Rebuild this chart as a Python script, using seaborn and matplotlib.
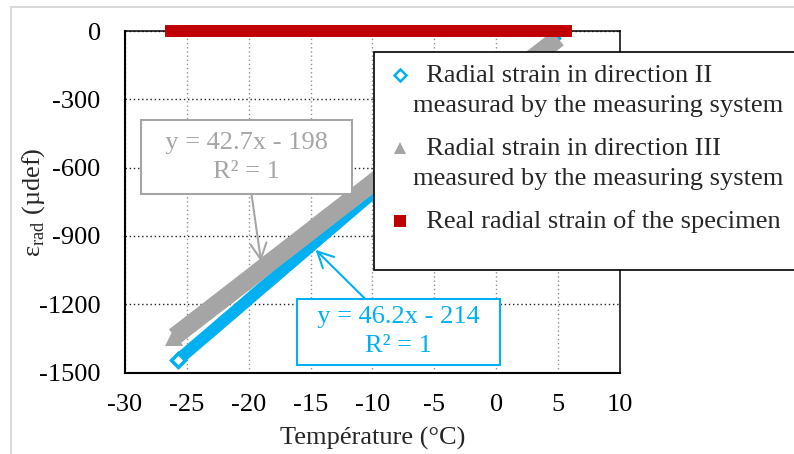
import matplotlib
matplotlib.use('Agg')
import matplotlib.pyplot as plt
import matplotlib.patches as mpatches
from matplotlib.lines import Line2D
import seaborn as sns

# Valeurs
temp_dir2 = [-25.7, -25, -24, -23, -22, -21, -20, -19, -18, -17, -16, -15, -14, -13, -12, -11,
             -10, -9, -8, -7, -6, -5, -4, -3, -2, -1, 0, 1, 2, 3, 4, 5]
strain_dir2 = [-1444, -1412, -1365, -1319, -1272, -1226, -1179, -1132, -1086, -1039, -993, -946,
               -899, -853, -806, -760, -713, -666, -620, -573, -527, -480, -433, -387, -340, -294,
               -247, -200, -154, -107, -61, -14]

temp_dir3 = [-26, -25, -24, -23, -22, -21, -20, -19, -18, -17, -16, -15, -14, -13, -12, -11,
             -10, -9, -8, -7, -6, -5, -4, -3, -2, -1, 0, 1, 2, 3, 4, 5]
strain_dir3 = [-1342, -1300, -1258, -1216, -1174, -1132, -1090, -1047, -1005, -963, -921, -879,
               -836, -794, -752, -710, -668, -625, -583, -541, -498, -456, -414, -371, -329, -287,
               -244, -202, -160, -117, -75, -32]

temp_real = [-26.3, -25, -20, -15, -10, -5, 0, 5, 5.6]
strain_real = [0, 0, 0, 0, 0, 0, 0, 0, 0]

x_ticks = [-30, -25, -20, -15, -10, -5, 0, 5, 10]
y_ticks = [-1500, -1200, -900, -600, -300, 0]

labels = ['  Radial strain in direction II', 'measurad by the measuring system',
          '  Radial strain in direction III', 'measured by the measuring system',
          '  Real radial strain of the specimen']
eq_dir2 = '  y = 46.2x - 214  \nR² = 1'
eq_dir3 = '  y = 42.7x - 198  \nR² = 1'

BLUE = '#00B0F0'
GRAY = '#A5A5A5'
RED = '#C00000'

sns.set_theme(style='white')
plt.rcParams['font.family'] = ['Liberation Serif', 'DejaVu Serif']
plt.rcParams['mathtext.fontset'] = 'custom'
plt.rcParams['mathtext.rm'] = 'Liberation Serif'
plt.rcParams['axes.unicode_minus'] = False
FS = 19

fig = plt.figure(figsize=(7.94, 4.54), dpi=100)
ax = fig.add_axes([0.1574, 0.1795, 0.6234, 0.7522])

# séries
sns.lineplot(x=temp_dir2, y=strain_dir2, ax=ax, color=BLUE, lw=8.5,
             solid_capstyle='butt', zorder=3)
sns.lineplot(x=temp_dir3, y=strain_dir3, ax=ax, color=GRAY, lw=13,
             solid_capstyle='butt', zorder=4)
ax.plot(temp_dir2[:1], strain_dir2[:1], marker='D', ms=7, mew=2.5, mfc='white',
        mec=BLUE, ls='none', zorder=5)
ax.plot(temp_dir3[:1], strain_dir3[:1], marker='^', ms=13, mew=0, color=GRAY,
        ls='none', zorder=4)
sns.lineplot(x=temp_real, y=strain_real, ax=ax, color=RED, lw=8.6,
             solid_capstyle='projecting', clip_on=False, zorder=6)

ax.set_xlim(-30, 10)
ax.set_ylim(-1500, 0)
ax.set_xticks(x_ticks)
ax.set_yticks(y_ticks)
ax.tick_params(axis='both', direction='out', length=5.5, width=1.5, colors='black',
               labelsize=FS)
ax.tick_params(axis='y', pad=12)
ax.tick_params(axis='x', pad=10)
ax.xaxis.grid(True, color='#909090', ls=(0, (1, 2)), lw=1)
ax.yaxis.grid(True, color='#202020', ls=(0, (1, 2)), lw=1)
for side in ['left', 'bottom']:
    ax.spines[side].set_linewidth(1.5)
for side in ['top', 'right']:
    ax.spines[side].set_linewidth(1.1)
for sp in ax.spines.values():
    sp.set_color('black')
    sp.set_visible(True)

ax.set_xlabel('Température (°C)', fontsize=FS, labelpad=8)
ax.set_ylabel('ε$_{\\mathrm{rad}}$ (µdef)', fontsize=FS)
ax.yaxis.set_label_coords(-0.158, 0.5)

# équations des courbes de tendance
ax.annotate(eq_dir3, xy=(-19.0, -1013), xytext=(-20.2, -555), ha='center', va='center',
            fontsize=FS, color=GRAY, linespacing=1.45,
            bbox=dict(boxstyle='square,pad=0.42', fc='white', ec=GRAY, lw=1.5),
            arrowprops=dict(arrowstyle='->,head_length=0.6,head_width=0.3', color=GRAY,
                            lw=1.5, shrinkA=0, shrinkB=0), zorder=7)
ax.annotate(eq_dir2, xy=(-14.6, -961), xytext=(-7.9, -1321), ha='center', va='center',
            fontsize=FS, color=BLUE, linespacing=1.4,
            bbox=dict(boxstyle='square,pad=0.28', fc='white', ec=BLUE, lw=1.5),
            arrowprops=dict(arrowstyle='->,head_length=0.6,head_width=0.3', color=BLUE,
                            lw=1.5, shrinkA=0, shrinkB=0), zorder=7)


def fx(px):
    return px / 794


def fy(py):
    return 1 - py / 454


# légende
fig.add_artist(mpatches.Rectangle((fx(374), fy(270)), 1, fy(52) - fy(270),
                                  transform=fig.transFigure, fc='white', ec='black', lw=1.2,
                                  zorder=10))
fig.add_artist(Line2D([fx(400)], [fy(75)], transform=fig.transFigure, marker='D', ms=6,
                      mew=1.8, mfc='white', mec=BLUE, ls='none', zorder=11))
fig.add_artist(Line2D([fx(400)], [fy(148)], transform=fig.transFigure, marker='^', ms=9,
                      mew=0, color=GRAY, ls='none', zorder=11))
fig.add_artist(Line2D([fx(400)], [fy(221)], transform=fig.transFigure, marker='s', ms=9,
                      mew=0, color=RED, ls='none', zorder=11))
for lab, base in zip(labels, [82, 112, 155, 185, 228]):
    fig.text(fx(413), fy(base), lab, fontsize=FS, va='baseline', ha='left', zorder=12)

# cadre gris de la figure
fig.add_artist(mpatches.Rectangle((fx(11), -0.1), 1, fy(7) + 0.1, transform=fig.transFigure,
                                  fill=False, ec='#D9D9D9', lw=1.5, zorder=13))

fig.savefig('out.png', dpi=100)
